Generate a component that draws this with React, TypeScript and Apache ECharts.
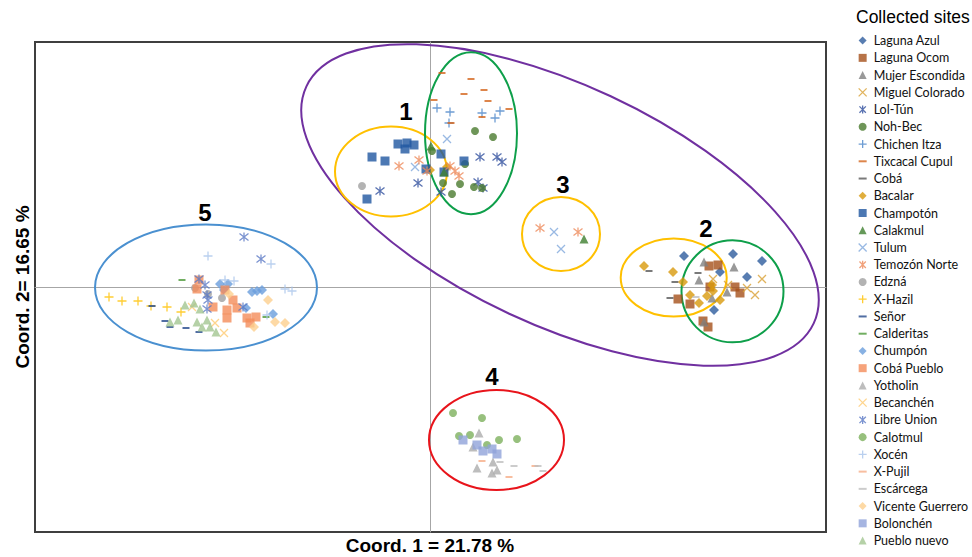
import React, { useEffect, useRef } from 'react';
import * as echarts from 'echarts';

// ---- data (Coord. 1, Coord. 2) ----
const lagunaAzul = [[2.535, 0.31], [3.025, 0.33], [3.315, 0.26], [3.165, 0.1], [2.835, -0.23], [2.895, 0.15]];
const lagunaOcom = [[2.785, 0.21], [2.875, 0.22], [2.795, 0.0], [3.045, 0.0], [3.095, -0.06], [2.475, -0.12], [2.595, -0.17], [2.725, -0.34], [2.775, -0.4]];
const mujerEscondida = [[2.735, 0.25], [3.035, 0.2], [2.685, 0.07], [2.965, -0.05], [2.815, -0.11], [2.735, -0.35]];
const miguelColorado = [[2.825, 0.08], [2.975, 0.02], [3.165, -0.01], [3.315, 0.08], [3.245, -0.08]];
const lolTun = [[-0.505, 0.96], [-0.125, 1.04], [0.495, 1.3], [0.665, 1.3], [0.715, 1.25], [0.475, 1.05], [0.525, 0.99], [0.105, 0.95]];
const nohBec = [[0.445, 1.56], [0.625, 1.5], [0.015, 1.36], [0.345, 1.23], [0.295, 1.03], [0.125, 1.04], [0.215, 0.93], [0.435, 1.0], [0.515, 0.99]];
const chichenItza = [[0.065, 1.79], [0.195, 1.75], [0.515, 1.74], [0.695, 1.76], [0.645, 1.69], [0.185, 1.64]];
const tixcacalCupul = [[0.115, 2.14], [0.405, 2.08], [0.335, 1.93], [0.535, 1.97], [0.035, 1.87], [0.575, 1.86], [0.785, 1.78], [0.515, 1.7], [0.205, 1.64]];
const coba = [[2.185, 0.16], [2.675, 0.14], [2.445, 0.05], [2.395, -0.11]];
const bacalar = [[2.135, 0.21], [2.425, 0.15], [2.525, 0.05], [2.595, -0.08], [2.685, -0.16], [2.765, -0.09], [2.825, -0.04], [2.895, -0.13], [2.815, 0.02], [-0.005, 1.17], [0.165, 1.2]];
const champoton = [[-0.325, 1.43], [-0.235, 1.44], [-0.165, 1.42], [-0.255, 1.38], [-0.585, 1.3], [-0.455, 1.26], [-0.635, 0.88], [0.105, 1.33], [0.335, 1.26], [-0.045, 1.18], [0.135, 1.15]];
const calakmul = [[0.005, 1.41], [0.135, 1.15], [1.535, 0.48]];
const tulum = [[0.165, 1.48], [-0.155, 1.2], [1.235, 0.55], [1.305, 0.38]];
const temozonNorte = [[-0.315, 1.21], [-0.115, 1.27], [-0.035, 1.16], [0.195, 1.21], [0.245, 1.16], [0.285, 1.11], [1.095, 0.59], [1.475, 0.55]];
const edzna = [[-0.685, 1.01], [-2.355, -0.01], [-2.225, -0.07], [-2.085, -0.11]];
const xHazil = [[-3.215, -0.1], [-3.085, -0.14], [-2.925, -0.14], [-2.795, -0.19], [-2.635, -0.2], [-2.495, -0.25]];
const senor = [[-2.785, -0.19], [-2.655, -0.34], [-2.605, -0.4], [-2.445, -0.41], [-2.315, -0.45]];
const calderitas = [[-2.485, 0.07], [-1.645, -0.3]];
const chumpon = [[-2.105, 0.03], [-2.025, 0.03], [-1.785, -0.05], [-1.735, -0.04], [-1.845, -0.21], [-1.575, -0.27], [-2.065, -0.03], [-1.685, -0.03]];
const cobaPueblo = [[-2.315, 0.07], [-2.335, -0.02], [-2.055, -0.03], [-1.975, -0.13], [-2.175, -0.2], [-2.035, -0.23], [-1.935, -0.21], [-2.035, -0.31], [-1.835, -0.31], [-1.745, -0.3], [-1.805, -0.36]];
const yotholin = [[0.485, -1.46], [0.425, -1.6], [0.465, -1.81], [0.625, -1.75], [0.665, -1.83], [0.615, -1.86]];
const becanchen = [[-2.385, -0.2], [-2.155, -0.36], [-2.065, -0.46]];
const libreUnion = [[-1.865, 0.5], [-1.695, 0.28], [-2.315, 0.08], [-2.255, 0.02], [-2.235, -0.08], [-2.225, -0.13], [-2.235, -0.22], [-1.875, -0.2]];
const calotmul = [[0.225, -1.26], [0.515, -1.31], [0.285, -1.49], [0.395, -1.48], [0.565, -1.58], [0.685, -1.53], [0.865, -1.52]];
const xocen = [[-2.225, 0.31], [-1.595, 0.23], [-2.055, 0.07], [-1.965, 0.06], [-1.455, -0.02], [-1.385, -0.04], [-1.635, -0.28]];
const xPujil = [[0.515, -1.74], [0.785, -1.9], [1.045, -1.79]];
const escarcega = [[0.695, -1.75], [0.835, -1.79], [1.075, -1.79], [1.125, -1.84], [2.655, -0.1]];
const vicenteGuerrero = [[-2.015, -0.07], [-1.625, -0.13], [-1.765, -0.4], [-1.555, -0.35], [-1.455, -0.36]];
const bolonchen = [[0.325, -1.53], [0.465, -1.58], [0.525, -1.64], [0.615, -1.62], [0.665, -1.67]];
const puebloNuevo = [[-2.455, -0.18], [-2.365, -0.16], [-2.305, -0.22], [-2.605, -0.35], [-2.525, -0.33], [-2.335, -0.35], [-2.235, -0.33], [-2.285, -0.4], [-2.205, -0.4], [-2.145, -0.45]];

const SITE_NAMES = ['Laguna Azul', 'Laguna Ocom', 'Mujer Escondida', 'Miguel Colorado', 'Lol-Tún', 'Noh-Bec', 'Chichen Itza', 'Tixcacal Cupul', 'Cobá', 'Bacalar', 'Champotón', 'Calakmul', 'Tulum', 'Temozón Norte', 'Edzná', 'X-Hazil', 'Señor', 'Calderitas', 'Chumpón', 'Cobá Pueblo', 'Yotholin', 'Becanchén', 'Libre Union', 'Calotmul', 'Xocén', 'X-Pujil', 'Escárcega', 'Vicente Guerrero', 'Bolonchén', 'Pueblo nuevo'];
const SITE_DATA = [lagunaAzul, lagunaOcom, mujerEscondida, miguelColorado, lolTun, nohBec, chichenItza, tixcacalCupul, coba, bacalar, champoton, calakmul, tulum, temozonNorte, edzna, xHazil, senor, calderitas, chumpon, cobaPueblo, yotholin, becanchen, libreUnion, calotmul, xocen, xPujil, escarcega, vicenteGuerrero, bolonchen, puebloNuevo];

// ellipses: [cx, cy, rx, ry, rotationDeg]
const ELLIPSES = [
  [1.295, 0.82, 2.8, 1.2, -25],
  [-0.395, 1.155, 0.56, 0.45, 0],
  [0.405, 1.537, 0.46, 0.81, 0],
  [1.305, 0.53, 0.39, 0.37, 0],
  [2.432, 0.095, 0.53, 0.39, 0],
  [3.02, -0.043, 0.51, 0.51, 0],
  [0.66, -1.53, 0.675, 0.5, 0],
  [-2.245, -0.005, 1.11, 0.63, 0],
];
const CLUSTER_LABELS = ['1', '2', '3', '4', '5'];

// ---- styles ----
const ELLIPSE_COLORS = ['#7030A0', '#FFC000', '#0E9F4A', '#FFC000', '#FFC000', '#0E9F4A', '#E8141B', '#4A90D0'];
const SITE_COLORS = ['#2E5C9E', '#A5501A', '#7F7F7F', '#D9A033', '#2F4F9E', '#4A7A2E', '#4A84C8', '#D5661E', '#595959', '#D89A0C', '#1F56A0', '#3F7F2F', '#80A8DC', '#EE8A5A', '#A0A0A0', '#FFC000', '#264A8C', '#4E9A3A', '#6A9EDC', '#F48C5A', '#ADADAD', '#FFCB70', '#5A78C4', '#7DB05D', '#A9C4EB', '#F6AE88', '#BFBFBF', '#FDD08E', '#90A3DA', '#A3C591'];
const SITE_MARKERS = ['diamond', 'rect', 'triangle', 'x', 'star', 'circle', 'plus', 'dash', 'dash', 'diamond', 'rect', 'triangle', 'x', 'star', 'circle', 'plus', 'dash', 'dash', 'diamond', 'rect', 'triangle', 'x', 'star', 'circle', 'plus', 'dash', 'dash', 'diamond', 'rect', 'triangle'];
const LABEL_POS = [[406, 111], [706, 228], [563, 184], [492, 376], [205, 212]];

const MARKER: Record<string, { symbol: string; size: any; stroke: boolean }> = {
  diamond: { symbol: 'diamond', size: 10, stroke: false },
  rect: { symbol: 'rect', size: 9, stroke: false },
  triangle: { symbol: 'triangle', size: 9, stroke: false },
  circle: { symbol: 'circle', size: 8, stroke: false },
  x: { symbol: 'path://M0,0L10,10M10,0L0,10', size: 8, stroke: true },
  plus: { symbol: 'path://M5,0L5,10M0,5L10,5', size: 9, stroke: true },
  star: { symbol: 'path://M1,1L9,9M9,1L1,9M5,0L5,10', size: 9, stroke: true },
  dash: { symbol: 'path://M0,0L10,0L10,2.5L0,2.5Z', size: [7, 2], stroke: false },
};

export default function App() {
  const ref = useRef<HTMLDivElement>(null);
  useEffect(() => {
    if (!ref.current) return;
    const chart = echarts.init(ref.current, undefined, { renderer: 'svg' });

    const siteSeries = SITE_NAMES.map((name, i) => {
      const m = MARKER[SITE_MARKERS[i]];
      const c = SITE_COLORS[i];
      return {
        type: 'scatter',
        name,
        data: SITE_DATA[i],
        symbol: m.symbol,
        symbolSize: m.size,
        z: 3,
        itemStyle: m.stroke
          ? { color: c, borderColor: c, borderWidth: 1.3 }
          : { color: c, borderWidth: 0 },
        emphasis: { disabled: true },
      };
    });

    const ellipseSeries = {
      type: 'custom',
      name: '__ellipses',
      silent: true,
      z: 1,
      data: ELLIPSES,
      renderItem: (params: any, api: any) => {
        const c = api.coord([api.value(0), api.value(1)]);
        const s = api.size([api.value(2), api.value(3)]);
        return {
          type: 'ellipse',
          x: c[0],
          y: c[1],
          rotation: (api.value(4) * Math.PI) / 180,
          shape: { cx: 0, cy: 0, rx: s[0], ry: s[1] },
          style: { fill: 'none', stroke: ELLIPSE_COLORS[params.dataIndex], lineWidth: 2 },
        };
      },
    };

    chart.setOption({
      animation: false,
      title: {
        text: 'Collected sites',
        left: 856,
        top: 8,
        padding: 0,
        textStyle: { fontFamily: 'Liberation Sans', fontSize: 17.5, fontWeight: 'normal', color: '#000' },
      },
      legend: {
        orient: 'vertical',
        left: 858,
        top: 32,
        padding: 0,
        itemWidth: 8,
        itemHeight: 8,
        itemGap: 0,
        selectedMode: false,
        data: SITE_NAMES,
        itemStyle: { borderWidth: 'inherit' },
        textStyle: { fontFamily: 'Lato', fontSize: 12.5, color: '#111', lineHeight: 17.24, padding: [0, 0, 0, 2] },
      },
      grid: {
        left: 35,
        top: 42,
        width: 791,
        height: 490,
        show: true,
        borderColor: '#3F3F3F',
        borderWidth: 2,
        backgroundColor: '#fff',
      },
      xAxis: {
        type: 'value',
        min: -3.955,
        max: 3.955,
        axisLine: { onZero: true, lineStyle: { color: '#A6A6A6', width: 1 } },
        axisTick: { show: false },
        axisLabel: { show: false },
        splitLine: { show: false },
      },
      yAxis: {
        type: 'value',
        min: -2.45,
        max: 2.45,
        axisLine: { onZero: true, lineStyle: { color: '#A6A6A6', width: 1 } },
        axisTick: { show: false },
        axisLabel: { show: false },
        splitLine: { show: false },
      },
      graphic: [
        {
          type: 'text',
          x: 430,
          y: 545,
          style: { text: 'Coord. 1 = 21.78 %', font: 'bold 19px "Liberation Sans"', fill: '#000', textAlign: 'center', textVerticalAlign: 'middle' },
        },
        {
          type: 'text',
          x: 22,
          y: 287,
          rotation: Math.PI / 2,
          style: { text: 'Coord. 2= 16.65 %', font: 'bold 19px "Liberation Sans"', fill: '#000', textAlign: 'center', textVerticalAlign: 'middle' },
        },
        ...CLUSTER_LABELS.map((t, i) => ({
          type: 'text',
          x: LABEL_POS[i][0],
          y: LABEL_POS[i][1],
          z: 10,
          style: { text: t, font: 'bold 24px "Liberation Sans"', fill: '#000', textAlign: 'center', textVerticalAlign: 'middle' },
        })),
      ],
      series: [ellipseSeries, ...siteSeries],
    });
    return () => chart.dispose();
  }, []);
  return <div ref={ref} style={{ position: 'fixed', left: 0, top: 0, width: 972, height: 557, background: '#fff' }} />;
}
